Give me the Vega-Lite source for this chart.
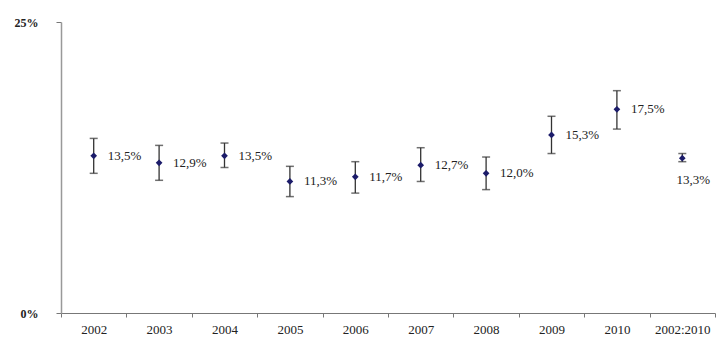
{
  "$schema": "https://vega.github.io/schema/vega-lite/v6.json",
  "autosize": {"type": "none"},
  "width": 654,
  "height": 291,
  "padding": {"left": 61, "top": 22, "right": 9, "bottom": 28},
  "background": "white",
  "config": {"view": {"stroke": null}, "font": "Times New Roman"},
  "data": {"values": [
    {"year": "2002", "value": 13.5, "lo": 12.0, "hi": 15.0, "label": "13,5%"},
    {"year": "2003", "value": 12.9, "lo": 11.4, "hi": 14.4, "label": "12,9%"},
    {"year": "2004", "value": 13.5, "lo": 12.5, "hi": 14.6, "label": "13,5%"},
    {"year": "2005", "value": 11.3, "lo": 10.0, "hi": 12.6, "label": "11,3%"},
    {"year": "2006", "value": 11.7, "lo": 10.3, "hi": 13.0, "label": "11,7%"},
    {"year": "2007", "value": 12.7, "lo": 11.3, "hi": 14.2, "label": "12,7%"},
    {"year": "2008", "value": 12.0, "lo": 10.6, "hi": 13.4, "label": "12,0%"},
    {"year": "2009", "value": 15.3, "lo": 13.7, "hi": 16.9, "label": "15,3%"},
    {"year": "2010", "value": 17.5, "lo": 15.8, "hi": 19.1, "label": "17,5%"},
    {"year": "2002-2010", "value": 13.3, "lo": 13.0, "hi": 13.7, "label": "13,3%"}
  ]},
  "encoding": {
    "x": {
      "field": "year", "type": "nominal", "sort": null,
      "scale": {"paddingInner": 0, "paddingOuter": 0},
      "axis": {
        "title": null, "labelAngle": 0, "tickBand": "extent",
        "domainColor": "#777", "tickColor": "#777", "tickSize": 4,
        "labelFont": "Times New Roman", "labelFontSize": 13, "labelColor": "#222",
        "labelPadding": 6,
        "labelExpr": "datum.value == '2002-2010' ? '2002:2010' : datum.value"
      }
    }
  },
  "layer": [
    {
      "mark": {"type": "rule", "color": "#333", "strokeWidth": 1.3},
      "encoding": {
        "y": {"field": "lo", "type": "quantitative",
          "scale": {"domain": [0, 25], "nice": false},
          "axis": {"title": null, "values": [0, 25], "grid": false,
            "labelExpr": "datum.value + '%'", "domainColor": "#999", "domainWidth": 1.5,
            "tickColor": "#777", "tickSize": 5,
            "labelFont": "Times New Roman", "labelFontSize": 12, "labelColor": "#222", "labelFontWeight": "bold",
            "labelPadding": 18}},
        "y2": {"field": "hi"}
      }
    },
    {
      "mark": {"type": "tick", "color": "#333", "size": 8, "thickness": 1.5, "orient": "horizontal"},
      "encoding": {"y": {"field": "lo", "type": "quantitative"}}
    },
    {
      "mark": {"type": "tick", "color": "#333", "size": 8, "thickness": 1.5, "orient": "horizontal"},
      "encoding": {"y": {"field": "hi", "type": "quantitative"}}
    },
    {
      "mark": {"type": "point", "shape": "diamond", "filled": true, "color": "#1c1c6a", "size": 45, "opacity": 1},
      "encoding": {"y": {"field": "value", "type": "quantitative"}}
    },
    {
      "transform": [{"filter": "datum.year != '2002-2010'"}],
      "mark": {"type": "text", "align": "left", "baseline": "middle", "dx": 14, "font": "Times New Roman", "fontSize": 13, "color": "#222"},
      "encoding": {"y": {"field": "value", "type": "quantitative"}, "text": {"field": "label"}}
    },
    {
      "transform": [{"filter": "datum.year == '2002-2010'"}],
      "mark": {"type": "text", "align": "center", "baseline": "middle", "dx": 11, "dy": 22, "font": "Times New Roman", "fontSize": 13, "color": "#222"},
      "encoding": {"y": {"field": "value", "type": "quantitative"}, "text": {"field": "label"}}
    }
  ]
}
